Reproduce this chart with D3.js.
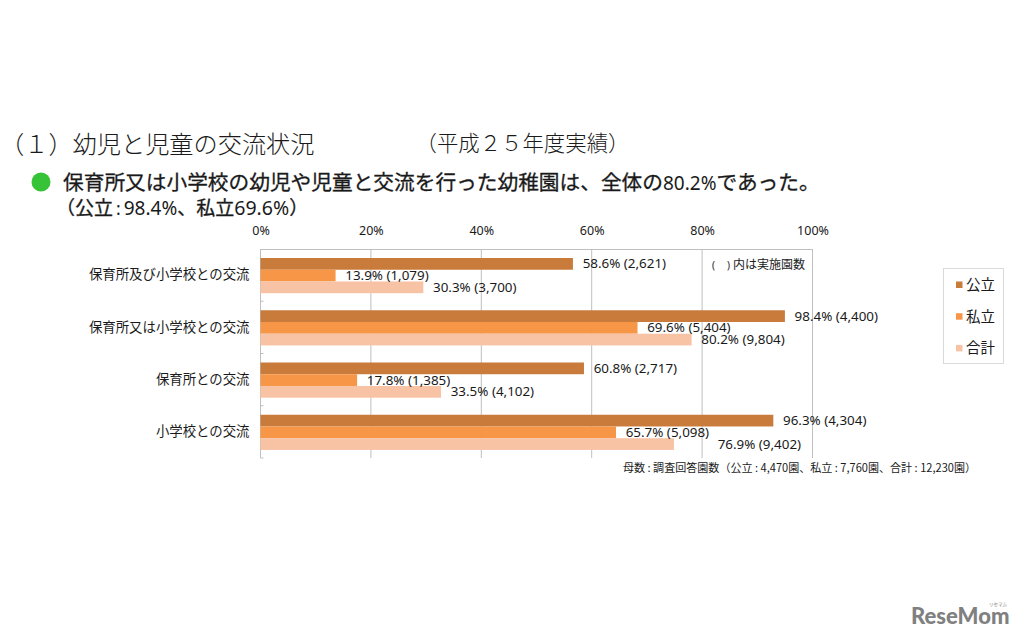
<!DOCTYPE html>
<html>
<head>
<meta charset="utf-8">
<script src="https://cdn.jsdelivr.net/npm/d3@7"></script>
<style>
body { margin: 0; background: #fff; }
text { font-family: "Noto Sans CJK JP", sans-serif; fill: #1a1a1a; }
.num { font-family: "Noto Sans", "Noto Sans CJK JP", sans-serif; font-weight: 400; stroke: none; }
</style>
</head>
<body>
<div id="chart"></div>
<script>
var categories = ["保育所及び小学校との交流", "保育所又は小学校との交流", "保育所との交流", "小学校との交流"];
var seriesNames = ["公立", "私立", "合計"];
var seriesColors = ["#c97b3c", "#f79646", "#f8c3a5"];

// bar lengths as measured against the axis; in the source they run a bit shorter than the printed labels
var publicValues = [56.6, 95.0, 58.6, 92.9];
var privateValues = [13.6, 68.3, 17.5, 64.4];
var totalValues = [29.5, 78.1, 32.7, 74.9];

var publicLabels = ["58.6% (2,621)", "98.4% (4,400)", "60.8% (2,717)", "96.3% (4,304)"];
var privateLabels = ["13.9% (1,079)", "69.6% (5,404)", "17.8% (1,385)", "65.7% (5,098)"];
var totalLabels = ["30.3% (3,700)", "80.2% (9,804)", "33.5% (4,102)", "76.9% (9,402)"];

var ticks = [0, 20, 40, 60, 80, 100];

var allValues = [publicValues, privateValues, totalValues];
var allLabels = [publicLabels, privateLabels, totalLabels];

var svg = d3.select("#chart").append("svg")
  .attr("width", 1022)
  .attr("height", 639)
  .style("display", "block");

var x = d3.scaleLinear().domain([0, 100]).range([260.5, 812.5]);
var y = d3.scaleBand().domain(categories).range([249, 458]);
var inner = d3.scaleBand().domain(seriesNames).range([9, 44.2]);

// headings
svg.append("text").attr("x", 0).attr("y", 153).attr("font-size", 24.2).attr("font-weight", 300).text("（１）幼児と児童の交流状況");
svg.append("text").attr("x", 415.5).attr("y", 151).attr("font-size", 21.4).attr("font-weight", 300).text("（平成２５年度実績）");
svg.append("circle").attr("cx", 41).attr("cy", 182).attr("r", 9.5).attr("fill", "#37c337");

var sub = svg.append("text").attr("x", 63).attr("y", 190).attr("font-size", 20.7)
  .attr("stroke", "#1a1a1a").attr("stroke-width", 0.3);
sub.append("tspan").text("保育所又は小学校の幼児や児童と交流を行った幼稚園は、全体の");
sub.append("tspan").attr("class", "num").attr("font-size", 19).text("80.2%");
sub.append("tspan").text("であった。");

var sub2 = svg.append("text").attr("x", 56).attr("y", 215).attr("font-size", 19)
  .attr("stroke", "#1a1a1a").attr("stroke-width", 0.3);
sub2.append("tspan").text("（公立");
sub2.append("tspan").attr("class", "num").attr("font-size", 17.5).attr("dx", 3).text(":");
sub2.append("tspan").attr("class", "num").attr("font-size", 19).attr("dx", 3).text("98.4%");
sub2.append("tspan").text("、私立");
sub2.append("tspan").attr("class", "num").attr("font-size", 19.5).text("69.6%");
sub2.append("tspan").text("）");

// grid and axis
svg.append("g").selectAll("line").data(ticks).join("line")
  .attr("x1", d => x(d)).attr("x2", d => x(d))
  .attr("y1", 249).attr("y2", 458)
  .attr("stroke", "#bfbfbf");
svg.append("line").attr("x1", x(0)).attr("x2", x(100)).attr("y1", 249.5).attr("y2", 249.5).attr("stroke", "#bfbfbf");

var xAxis = svg.append("g").attr("transform", "translate(0,249)")
  .call(d3.axisTop(x).tickValues(ticks).tickSize(0).tickPadding(14).tickFormat(d => d + "%"));
xAxis.select(".domain").remove();
xAxis.selectAll("text").attr("class", "num").attr("font-size", 12.5);

var yAxis = svg.append("g").attr("transform", "translate(260.5,0)")
  .call(d3.axisLeft(y).tickSize(0).tickPadding(11));
yAxis.select(".domain").remove();
yAxis.selectAll("text").attr("font-size", 13.4);
// small ticks between the groups
svg.append("g").selectAll("line").data(categories).join("line")
  .attr("x1", x(0)).attr("x2", x(0) + 3)
  .attr("y1", d => y(d) + y.bandwidth()).attr("y2", d => y(d) + y.bandwidth())
  .attr("stroke", "#bfbfbf");

// bars
seriesNames.forEach(function(name, s) {
  var g = svg.append("g");
  g.selectAll("rect").data(categories).join("rect")
    .attr("x", x(0))
    .attr("y", d => y(d) + inner(name))
    .attr("width", (d, i) => x(allValues[s][i]) - x(0))
    .attr("height", inner.bandwidth())
    .attr("fill", seriesColors[s]);
});

// labels go on top, the 76.9% one sits further out in the source
seriesNames.forEach(function(name, s) {
  svg.append("g").selectAll("text").data(categories).join("text")
    .attr("class", "num")
    .attr("x", (d, i) => x(allValues[s][i]) + (allLabels[s][i].indexOf("76.9") == 0 ? 43.7 : 9.7))
    .attr("y", d => y(d) + inner(name) + inner.bandwidth() / 2 + 4.5)
    .attr("font-size", 13.4)
    .text((d, i) => allLabels[s][i]);
});

var note = svg.append("text").attr("y", 269).attr("font-size", 12);
note.append("tspan").attr("class", "num").attr("x", 712).attr("font-size", 10).text("(");
note.append("tspan").attr("class", "num").attr("x", 727).attr("font-size", 10).text(")");
note.append("tspan").attr("x", 733).text("内は実施園数");

svg.append("text").attr("x", 623).attr("y", 472).attr("font-size", 11.05)
  .text("母数 : 調査回答園数（公立 : 4,470園、私立 : 7,760園、合計 : 12,230園）");

// legend
svg.append("rect").attr("x", 943.5).attr("y", 268.5).attr("width", 60).attr("height", 95).attr("fill", "#fff").attr("stroke", "#d9d9d9");
seriesNames.forEach(function(name, s) {
  var ly = 284.5 + s * 31.7;
  svg.append("rect").attr("x", 956).attr("y", ly - 3).attr("width", 6.5).attr("height", 6.5).attr("fill", seriesColors[s]);
  svg.append("text").attr("x", 966).attr("y", ly + 5.5).attr("font-size", 14.5).text(name);
});

// watermark
svg.append("text").attr("x", 911).attr("y", 624)
  .style("font-family", "Lato, sans-serif").style("fill", "#808080")
  .attr("font-size", 22).attr("font-weight", 900).text("ReseMom");
svg.append("text").attr("x", 989).attr("y", 606).style("fill", "#808080").attr("font-size", 4.5).text("リセマム");
</script>
</body>
</html>
